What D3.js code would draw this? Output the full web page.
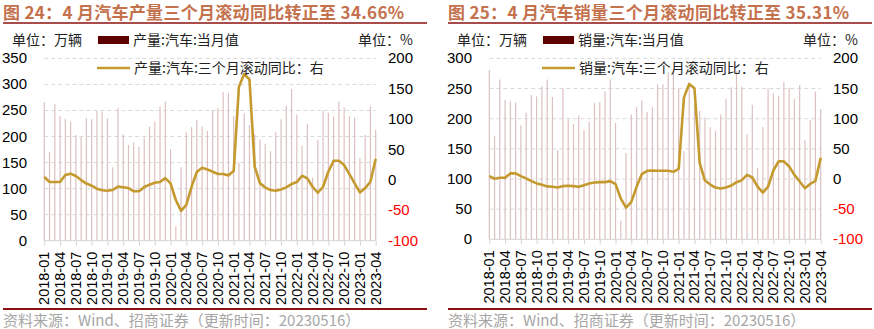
<!DOCTYPE html>
<html>
<head>
<meta charset="utf-8">
<script src="https://cdn.jsdelivr.net/npm/d3@7"></script>
<style>
  html, body { margin: 0; padding: 0; background: #fff; }
  svg { display: block; }
</style>
</head>
<body>
<svg id="chart" width="874" height="329"></svg>
<script>
// Monthly categories 2018-01 … 2023-04
const months = [];
for (let y = 2018; y <= 2023; y++) {
  for (let m = 1; m <= 12; m++) {
    if (y === 2023 && m > 4) break;
    months.push(`${y}-${String(m).padStart(2, "0")}`);
  }
}
// Tick labels shown every quarter
const tickLabels = months.filter((d, i) => i % 3 === 0);

// Auto production, monthly (万辆)
const prodMonthly = [
  266, 170, 262, 239, 234, 228, 203, 199, 235, 233, 249, 248,
  235, 141, 255, 204, 184, 189, 180, 198, 219, 229, 258, 267,
  176, 28, 141, 208, 218, 232, 219, 211, 251, 255, 285, 284,
  239, 150, 244, 222, 204, 194, 186, 172, 208, 233, 259, 291,
  242, 182, 224, 121, 193, 250, 246, 239, 267, 256, 239, 237,
  159, 203, 258, 213
];
// Auto production, three-month rolling YoY (%)
const prodYoY3m = [
  4.8, -3.5, -3.5, -3.5, 8, 10.3, 6.4, -0.2, -6, -9.5, -14.4, -17,
  -17.7, -16.6, -11, -12, -13.3, -18.7, -18.7, -11.6, -7.8, -4.5, -3.5, 3,
  -5.6, -33, -51, -41, -11, 13, 20, 17.3, 13.5, 9.7, 9.7, 7.5,
  14.6, 153.4, 174.2, 165.4, 21.7, -5.7, -12.3, -16.7, -17.8, -15.6, -12.3, -6.8,
  -3.5, 6.9, 2.5, -11.2, -21.1, -11.2, 13.5, 31.6, 31.6, 24.5, 9.7, -5.7,
  -20.5, -13.4, -3, 34.66
];
// Auto sales, monthly (万辆)
const salesMonthly = [
  281, 171, 265, 231, 229, 227, 189, 210, 239, 237, 254, 265,
  236, 148, 251, 199, 191, 205, 181, 195, 226, 228, 245, 265,
  193, 31, 143, 207, 219, 230, 211, 219, 257, 257, 277, 283,
  250, 146, 253, 225, 213, 202, 186, 180, 207, 233, 252, 279,
  253, 174, 223, 118, 186, 250, 242, 238, 261, 251, 233, 256,
  165, 198, 245, 216
];
// Auto sales, three-month rolling YoY (%)
const salesYoY3m = [
  4.8, 0.4, 2, 2, 9.3, 9.3, 4.8, 1, -3.5, -7.3, -9.6, -12.3,
  -12.9, -14, -11.8, -11.2, -11.8, -12.9, -10.2, -7.4, -5.7, -5.2, -5.2, -3.5,
  -8.5, -32.4, -47.4, -38, -13, 8.1, 13.6, 14.1, 13.6, 13.6, 13.6, 11.9,
  16.9, 134.9, 157.7, 150.5, 26.4, -2.6, -9.2, -14.2, -15.9, -14.2, -10.9, -5.3,
  -2, 6.9, 2.5, -12.6, -22.6, -12.6, 14.1, 29.2, 29.2, 20.8, 6.9, -4.2,
  -15.4, -8.1, -3.1, 35.31
];

const leftTicksProd = [0, 50, 100, 150, 200, 250, 300, 350];
const leftTicksSales = [0, 50, 100, 150, 200, 250, 300];
const rightTicks = [-100, -50, 0, 50, 100, 150, 200];

const CJK = "'Noto Sans CJK SC', 'Noto Sans', sans-serif";
const NUM = "'Liberation Sans', Arial, sans-serif";
const BAR_COLOR = "#dcc0c0";
const SWATCH_COLOR = "#5c0000";
const LINE_COLOR = "#c49a2e";
const RULE_COLOR = "#8b1010";

const svg = d3.select("#chart");

function drawPanel(cfg) {
  const g = svg.append("g").attr("transform", `translate(${cfg.ox},0)`);
  const x = d3.scalePoint().domain(months).range([44.3, 375.7]);
  const yL = d3.scaleLinear().domain([0, cfg.leftMax]).range([cfg.bottom, 58.4]);
  const yR = d3.scaleLinear().domain([-100, 200]).range([cfg.bottom, 58.4]);

  // Title and rules
  g.append("text")
    .attr("x", 3).attr("y", 18.5)
    .attr("font-family", CJK).attr("font-size", 17).attr("font-weight", "bold")
    .attr("letter-spacing", 0.3)
    .attr("fill", "#c4714d")
    .text(cfg.title);
  g.append("line").attr("x1", 3).attr("x2", 427).attr("y1", 23).attr("y2", 23)
    .attr("stroke", RULE_COLOR).attr("stroke-width", 1.5);
  g.append("line").attr("x1", 3).attr("x2", 427).attr("y1", 309).attr("y2", 309)
    .attr("stroke", RULE_COLOR).attr("stroke-width", 2);
  g.append("text")
    .attr("x", 3).attr("y", 326)
    .attr("font-family", CJK).attr("font-size", 15).attr("fill", "#a6a6a6")
    .text("资料来源：Wind、招商证券（更新时间：20230516）");

  // Horizontal dashed grid
  g.append("g").selectAll("line")
    .data(cfg.leftTicks.filter(d => d > 0))
    .join("line")
    .attr("x1", 44.3).attr("x2", 375.7)
    .attr("y1", d => yL(d)).attr("y2", d => yL(d))
    .attr("stroke", "#d9d9d9").attr("stroke-width", 1)
    .attr("stroke-dasharray", "4,3");

  // Monthly bars
  g.append("g").selectAll("rect")
    .data(cfg.bars)
    .join("rect")
    .attr("x", (d, i) => x(months[i]) - 0.6)
    .attr("width", 1.2)
    .attr("y", d => yL(d))
    .attr("height", d => yL(0) - yL(d))
    .attr("fill", BAR_COLOR);

  // Bottom axis with quarterly ticks
  const xAxis = d3.axisBottom(x)
    .tickValues(tickLabels)
    .tickSize(5)
    .tickFormat("");
  const ax = g.append("g").attr("transform", `translate(0,${yL(0)})`).call(xAxis);
  ax.select(".domain").attr("stroke", "#d4d4d4").attr("d", `M44.3,0H375.7`);
  ax.selectAll(".tick line").attr("stroke", "#d4d4d4");
  g.append("g").selectAll("text")
    .data(tickLabels)
    .join("text")
    .attr("transform", d => `translate(${x(d) + 5},${yL(0) + 11}) rotate(-90)`)
    .attr("text-anchor", "end")
    .attr("font-family", NUM).attr("font-size", 14.5).attr("fill", "#000")
    .text(d => d);

  // Left value axis labels
  g.append("g").selectAll("text")
    .data(cfg.leftTicks)
    .join("text")
    .attr("x", 27).attr("y", d => yL(d) + 5)
    .attr("text-anchor", "end")
    .attr("font-family", NUM).attr("font-size", 15).attr("fill", "#000")
    .text(d => d);

  // Right percentage axis labels
  g.append("g").selectAll("text")
    .data(rightTicks)
    .join("text")
    .attr("x", 388).attr("y", d => yR(d) + 5)
    .attr("text-anchor", "start")
    .attr("font-family", NUM).attr("font-size", 15)
    .attr("fill", d => d < 0 ? "#ff0000" : "#000")
    .text(d => d);

  // Rolling YoY line
  const line = d3.line()
    .x((d, i) => x(months[i]))
    .y(d => yR(d));
  g.append("path")
    .datum(cfg.yoy)
    .attr("d", line)
    .attr("fill", "none")
    .attr("stroke", LINE_COLOR)
    .attr("stroke-width", 2.6)
    .attr("stroke-linejoin", "round");

  // Legend and unit captions
  g.append("text").attr("x", 12).attr("y", 45)
    .attr("font-family", CJK).attr("font-size", 14).attr("fill", "#222")
    .text("单位：万辆");
  g.append("text").attr("x", 358).attr("y", 45)
    .attr("font-family", CJK).attr("font-size", 14).attr("fill", "#222")
    .text("单位：%");
  g.append("rect").attr("x", 98).attr("y", 36).attr("width", 31).attr("height", 8)
    .attr("fill", SWATCH_COLOR);
  g.append("text").attr("x", 133).attr("y", 45)
    .attr("font-family", CJK).attr("font-size", 14).attr("fill", "#222")
    .text(cfg.barName);
  g.append("line").attr("x1", 97).attr("x2", 130).attr("y1", 68).attr("y2", 68)
    .attr("stroke", LINE_COLOR).attr("stroke-width", 2.6);
  g.append("text").attr("x", 134).attr("y", 73)
    .attr("font-family", CJK).attr("font-size", 14).attr("fill", "#222")
    .text(cfg.lineName);
}

drawPanel({
  ox: 0,
  title: "图 24：4 月汽车产量三个月滚动同比转正至 34.66%",
  leftMax: 350,
  leftTicks: leftTicksProd,
  bottom: 240.7,
  bars: prodMonthly,
  yoy: prodYoY3m,
  barName: "产量:汽车:当月值",
  lineName: "产量:汽车:三个月滚动同比：右"
});

drawPanel({
  ox: 445,
  title: "图 25：4 月汽车销量三个月滚动同比转正至 35.31%",
  leftMax: 300,
  leftTicks: leftTicksSales,
  bottom: 239.3,
  bars: salesMonthly,
  yoy: salesYoY3m,
  barName: "销量:汽车:当月值",
  lineName: "销量:汽车:三个月滚动同比：右"
});
</script>
</body>
</html>
